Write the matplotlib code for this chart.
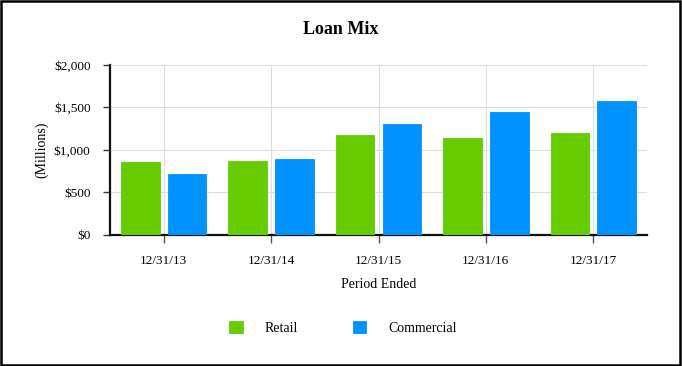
"""Loan Mix: столбчатая диаграмма по периодам."""

import numpy as np
from matplotlib import pyplot as plt
from matplotlib.patches import Rectangle
from matplotlib.ticker import FuncFormatter

periods = ["12/31/13", "12/31/14", "12/31/15", "12/31/16", "12/31/17"]
retail = [850, 866, 1177, 1141, 1197]
commercial = [709, 890, 1299, 1441, 1575]
series_names = ["Retail", "Commercial"]
colors = ["#66CC00", "#0092FF"]

plt.rcParams["font.family"] = ["Liberation Serif", "DejaVu Serif"]

fig = plt.figure(figsize=(6.82, 3.66), dpi=100)
ax = fig.add_axes([110 / 682, 1 - 234.5 / 366, 537 / 682, 169.5 / 366])

x = np.arange(len(periods))
width = 0.36
for vals, name, col, off in zip((retail, commercial), series_names,
                                colors, (-0.218, 0.218)):
    ax.bar(x + off, vals, width, color=col, label=name,
           edgecolor=col, linewidth=0.6, zorder=3)

ax.set_xlim(-0.5, len(periods) - 0.5)
ax.set_ylim(0, 2000)
ax.set_yticks(range(0, 2001, 500))
ax.yaxis.set_major_formatter(FuncFormatter(lambda v, _: f"${v:,.0f}"))
ax.set_xticks(x, periods)
ax.grid(axis="both", color="#dddddd", linewidth=0.8, zorder=0)

for side in ("top", "right"):
    ax.spines[side].set_visible(False)
for side in ("left", "bottom"):
    ax.spines[side].set_linewidth(1.6)
    ax.spines[side].set_color("#111111")
ax.tick_params(axis="y", length=5, width=1, labelsize=9.5, pad=9,
               color="#333333")
ax.tick_params(axis="x", length=6, width=1, labelsize=9.5, pad=8.5,
               color="#555555")

ax.set_ylabel("(Millions)", fontsize=10, labelpad=4)
ax.set_xlabel("Period Ended", fontsize=10, labelpad=8)
fig.text(0.5, 1 - 29 / 366, "Loan Mix", ha="center", va="center",
         fontsize=13, fontweight="bold")

ax.legend(loc="center", bbox_to_anchor=(0.5 + 2 / 682, 1 - 328 / 366),
          bbox_transform=fig.transFigure, ncol=2, frameon=False,
          fontsize=10, handlelength=1.0, handleheight=1.0,
          handletextpad=1.6, columnspacing=3.9)

# рамка вокруг всей картинки
fig.patches.append(Rectangle((1 / 682, 1 / 366), 679 / 682, 364 / 366,
                             transform=fig.transFigure, fill=False,
                             edgecolor="black", linewidth=1.8))

fig.savefig("out.png", dpi=100)
plt.close(fig)
